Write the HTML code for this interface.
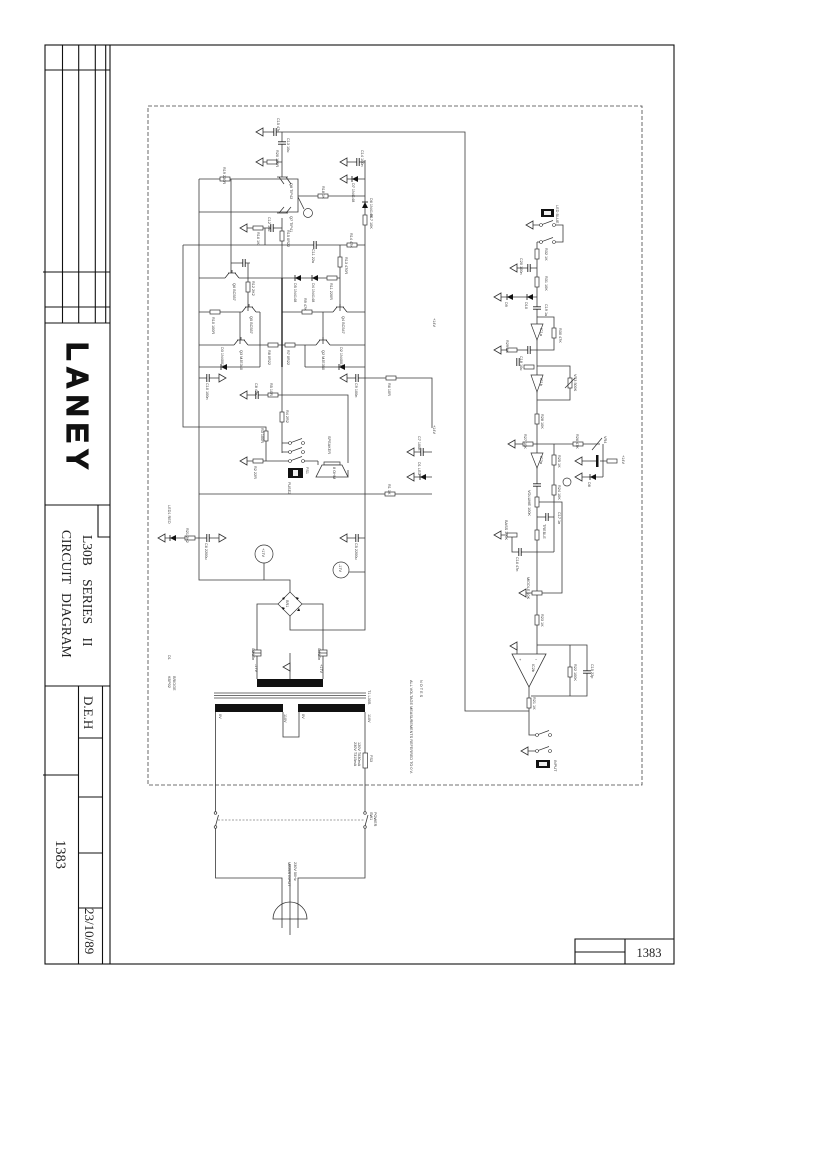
<!DOCTYPE html>
<html><head><meta charset="utf-8"><style>
html,body{margin:0;padding:0;background:#fff}
svg{display:block}
.w{fill:none;stroke:#3a3a3a;stroke-width:0.8}
.f{fill:none;stroke:#111;stroke-width:1.1}
.c{fill:#fff;stroke:#333;stroke-width:0.7}
.t{font-family:"Liberation Sans",sans-serif;font-size:3.8px;fill:#333}
.s{font-family:"Liberation Serif",serif;fill:#222}
</style></head><body>
<svg width="827" height="1170" viewBox="0 0 827 1170" xmlns="http://www.w3.org/2000/svg">
<defs>
<g id="gl"><path d="M0,0 L7,-4 L7,4 Z" fill="#fff" stroke="#333" stroke-width="0.8"/></g>
<g id="gr"><path d="M0,0 L-7,-4 L-7,4 Z" fill="#fff" stroke="#333" stroke-width="0.8"/></g>
<g id="rh"><rect x="-5" y="-2" width="10" height="4" fill="#fff" stroke="#333" stroke-width="0.7"/></g>
<g id="rv"><rect x="-2" y="-5" width="4" height="10" fill="#fff" stroke="#333" stroke-width="0.7"/></g>
<g id="cv"><rect x="-4" y="-1.2" width="8" height="2.4" fill="#fff"/><path d="M-4,-1.2H4M-4,1.2H4" stroke="#222" stroke-width="0.9"/></g>
<g id="ch"><rect x="-1.2" y="-4" width="2.4" height="8" fill="#fff"/><path d="M-1.2,-4V4M1.2,-4V4" stroke="#222" stroke-width="0.9"/></g>
<g id="dl"><path d="M-3,0 L3,-3 L3,3 Z" fill="#111"/><path d="M-3,-3V3" stroke="#111" stroke-width="0.8"/></g>
<g id="du"><path d="M0,-3 L-3,3 L3,3 Z" fill="#111"/><path d="M-3,-3H3" stroke="#111" stroke-width="0.8"/></g>
<g id="tq"><rect x="-7" y="-1" width="14" height="2" fill="#fff"/><path d="M-4,-5H4M-3,-5L-7,0M3,-5L7,0M0,-5V-8" stroke="#333" stroke-width="0.8" fill="none"/></g>
<g id="sw"><circle cx="0" cy="0" r="1.5" fill="#fff" stroke="#333" stroke-width="0.6"/><circle cx="13" cy="0" r="1.5" fill="#fff" stroke="#333" stroke-width="0.6"/><path d="M1.3,-0.6L12,-4.5" stroke="#333" stroke-width="0.7"/></g>
<g id="pc"><rect x="-4" y="-3" width="8" height="6" fill="#fff" stroke="#333" stroke-width="0.7"/><path d="M-4,0H4" stroke="#333" stroke-width="0.7"/></g>
</defs>

<!-- ===== Frame ===== -->
<rect x="45" y="45" width="629" height="919" class="f"/>
<path class="f" d="M110,45V964"/>
<path class="f" d="M62.5,45V323M78.7,45V323M95.3,45V323M105.7,45V323"/>
<path class="f" d="M45,70H110M43,272H110M45,307H110M45,323H110M45,505H110M98,505V537H110M45,686H110"/>
<path class="f" d="M78.5,686V964M102.5,686V964M43,775H78.5M78.5,738H102.5M78.5,797H102.5M78.5,853H102.5M78.5,908H102.5"/>
<path class="f" d="M575,964V939H674M625,939V964M575,952H625"/>
<text x="649" y="957" class="s" font-size="12.5" text-anchor="middle">1383</text>

<text transform="translate(67,342) rotate(90)" font-family="Liberation Sans,sans-serif" font-weight="bold" font-size="30.5" letter-spacing="6" fill="#111" stroke="#111" stroke-width="1.2">LANEY</text>
<text transform="translate(83,535) rotate(90)" class="s" font-size="13.5" word-spacing="10">L30B SERIES II</text>
<text transform="translate(62,530) rotate(90)" class="s" font-size="13.5" word-spacing="6">CIRCUIT DIAGRAM</text>
<text transform="translate(84,696) rotate(90)" class="s" font-size="13">D.E.H</text>
<text transform="translate(56,840) rotate(90)" class="s" font-size="14.5">1383</text>
<text transform="translate(85,908) rotate(90)" class="s" font-size="13">23/10/89</text>

<!-- dashed board outline -->
<rect x="148" y="106" width="494" height="679" fill="none" stroke="#444" stroke-width="0.8" stroke-dasharray="4 2"/>

<!-- ===== Power amp wiring ===== -->
<path class="w" d="M263,132H465V711H529
M282,132V177 M263,162H282
M199,179H298V212H199 M199,179V580H290V592
M231,179V273 M298,196H365 M298,197L304,209
M347,162H365 M347,179H365 M365,160V630H290V616
M282,218V453 M247,228H282 M265,228V245
M183,245H365 M183,245V427H266V461 M340,245V312
M199,278H340 M231,263H250 M248,263V312
M199,312H260 M282,312H365 M240,312V345 M260,312V367 M323,312V345
M199,345H365 M305,345V367 M199,367H260 M305,367H365
M199,378H219 M347,378H432V428 M247,395H348V463
M282,443H290 M282,452H290 M247,461H290 M303,461H318
M199,494H432 M414,452H432 M414,477H432
M165,538H219 M347,538H365 M264,563V580 M349,572H365
M278,604H257V679 M302,604H323V679 M290,653V679
M215.5,712V813 M215.5,827V878H282V928 M365,712V813 M365,827V878H298V928 M290,864V935"/>
<path d="M282,278V367" stroke="#222" stroke-width="1.4"/>

<!-- top transistors -->
<path class="w" d="M277,177H288M279,177L284,184M286,177L291,184M277,213H288M279,213L284,207M286,213L291,207"/>
<circle cx="308" cy="213" r="4.5" class="c"/>
<use href="#tq" x="232" y="278"/><use href="#tq" x="249" y="312"/><use href="#tq" x="340" y="312"/>
<use href="#tq" x="241" y="345"/><use href="#tq" x="323" y="345"/>

<!-- grounds -->
<use href="#gl" x="256" y="132"/><use href="#gl" x="256" y="162"/><use href="#gl" x="340" y="162"/><use href="#gl" x="340" y="179"/>
<use href="#gl" x="240" y="228"/><use href="#gl" x="240" y="395"/><use href="#gl" x="240" y="461"/><use href="#gl" x="340" y="378"/>
<use href="#gl" x="407" y="452"/><use href="#gl" x="407" y="477"/><use href="#gl" x="158" y="538"/><use href="#gl" x="340" y="538"/>
<use href="#gl" x="283" y="667"/><use href="#gr" x="226" y="378"/><use href="#gr" x="226" y="538"/>

<!-- resistors -->
<use href="#rv" x="282" y="236"/><use href="#rv" x="282" y="417"/><use href="#rv" x="266" y="436"/><use href="#rv" x="365" y="220"/>
<use href="#rv" x="340" y="262"/><use href="#rv" x="248" y="287"/>
<use href="#rh" x="272" y="162"/><use href="#rh" x="225" y="179"/><use href="#rh" x="323" y="196"/><use href="#rh" x="258" y="228"/>
<use href="#rh" x="352" y="245"/><use href="#rh" x="215" y="312"/><use href="#rh" x="307" y="312"/><use href="#rh" x="273" y="345"/>
<use href="#rh" x="290" y="345"/><use href="#rh" x="332" y="278"/><use href="#rh" x="273" y="395"/><use href="#rh" x="258" y="461"/>
<use href="#rh" x="390" y="494"/><use href="#rh" x="391" y="378"/><use href="#rh" x="190" y="538"/>
<!-- caps -->
<use href="#cv" x="282" y="143"/>
<use href="#ch" x="275" y="132"/><use href="#ch" x="358" y="162"/><use href="#ch" x="272" y="228"/><use href="#ch" x="315" y="245"/>
<use href="#ch" x="244" y="263"/><use href="#ch" x="208" y="378"/><use href="#ch" x="357" y="378"/><use href="#ch" x="257" y="395"/>
<use href="#ch" x="208" y="538"/><use href="#ch" x="357" y="538"/><use href="#ch" x="422" y="452"/>
<use href="#pc" x="257" y="653"/><use href="#pc" x="323" y="653"/>
<!-- diodes -->
<use href="#dl" x="355" y="179"/><use href="#dl" x="298" y="278"/><use href="#dl" x="315" y="278"/><use href="#dl" x="224" y="367"/>
<use href="#dl" x="342" y="367"/><use href="#dl" x="423" y="477"/><use href="#dl" x="173" y="538"/><use href="#du" x="365" y="205"/>

<!-- relay/switch contacts & speaker -->
<use href="#sw" x="290" y="443"/><use href="#sw" x="290" y="452"/><use href="#sw" x="290" y="461"/>
<path d="M324,462H340V465H324Z" fill="#fff" stroke="#333" stroke-width="0.7"/>
<path d="M322,465H342L348,477H316Z" fill="#fff" stroke="#333" stroke-width="0.8"/>
<path class="w" d="M318,461V465M348,470V477"/>
<rect x="288" y="468" width="15" height="10" fill="#111"/><rect x="293" y="470" width="5" height="6" fill="#eee"/>

<circle cx="264" cy="554" r="9" class="c"/><circle cx="341" cy="570" r="8" class="c"/>

<!-- bridge -->
<path d="M290,592L302,604L290,616L278,604Z" class="c"/>
<path d="M282,598l3,-1l-1,3zM296,597l3,1l-2,2zM283,610l-1,-3l3,1zM297,611l2,-3l1,3z" fill="#111"/>

<!-- transformer -->
<rect x="257" y="679" width="66" height="8" fill="#111"/>
<path d="M214,693H366M214,695.5H366M214,698H366" stroke="#444" stroke-width="0.7"/>
<rect x="215" y="704" width="68" height="8" fill="#111"/><rect x="298" y="704" width="67" height="8" fill="#111"/>
<path class="w" d="M283,712V737H299V712"/>
<rect x="363" y="753" width="4.5" height="15" class="c"/>
<!-- mains switch -->
<circle cx="215.5" cy="813" r="1.3" class="c"/><circle cx="215.5" cy="827" r="1.3" class="c"/>
<circle cx="365" cy="813" r="1.3" class="c"/><circle cx="365" cy="827" r="1.3" class="c"/>
<path class="w" d="M215.5,826L218.5,815M365,826L368,815"/>
<path d="M218,820H364" stroke="#444" stroke-width="0.6" stroke-dasharray="2 1.5"/>
<path d="M273,919A17,17 0 0 1 307,919Z" fill="none" stroke="#333" stroke-width="0.8"/>

<!-- ===== Preamp wiring ===== -->
<path class="w" d="M537,242V654 M533,225H541 M556,225H563V242H556 M541,242H537
M517,268H537 M501,297H537 M537,317H554V350H537 M501,350H537
M537,366H570V400H537 M515,444H600 M554,444V552
M582,461H597M600,461H617 M603,444V477 M582,477H603
M537,502H562V593H542 M537,517H554 M512,535V552H554 M501,535H505 M526,593H532
M537,645H587V696H531 M570,645V696 M517,646V654 M529,687V735H537 M528,751H537"/>
<rect x="541" y="209" width="13" height="8" fill="#111"/><rect x="544" y="211" width="7" height="4" fill="#eee"/>
<rect x="536" y="760" width="14" height="8" fill="#111"/><rect x="539" y="762" width="8" height="4" fill="#eee"/>
<use href="#sw" x="541" y="225"/><use href="#sw" x="541" y="242"/><use href="#sw" x="537" y="735"/><use href="#sw" x="537" y="751"/>
<use href="#gl" x="526" y="225"/><use href="#gl" x="510" y="268"/><use href="#gl" x="494" y="297"/><use href="#gl" x="494" y="350"/>
<use href="#gl" x="508" y="444"/><use href="#gl" x="575" y="461"/><use href="#gl" x="575" y="477"/><use href="#gl" x="494" y="535"/>
<use href="#gl" x="519" y="593"/><use href="#gl" x="510" y="646"/><use href="#gl" x="521" y="751"/>
<use href="#rv" x="537" y="254"/><use href="#rv" x="537" y="282"/><use href="#rv" x="554" y="333"/><use href="#rv" x="537" y="419"/>
<use href="#rv" x="554" y="460"/><use href="#rv" x="554" y="490"/><use href="#rv" x="537" y="620"/><use href="#rv" x="570" y="672"/>
<use href="#rv" x="529" y="703"/><use href="#rv" x="570" y="383"/><use href="#rv" x="537" y="502"/><use href="#rv" x="537" y="535"/>
<use href="#rh" x="512" y="350"/><use href="#rh" x="528" y="444"/><use href="#rh" x="578" y="444"/><use href="#rh" x="612" y="461"/>
<use href="#rh" x="529" y="367"/><use href="#rh" x="537" y="593"/><use href="#rh" x="512" y="535"/>
<path class="w" d="M592,450L602,438M565,388L575,378"/>
<use href="#cv" x="537" y="308"/><use href="#cv" x="537" y="485"/><use href="#cv" x="587" y="672"/>
<use href="#ch" x="529" y="268"/><use href="#ch" x="529" y="350"/><use href="#ch" x="547" y="517"/><use href="#ch" x="520" y="552"/><use href="#ch" x="518" y="362"/>
<rect x="596" y="455" width="2.5" height="12" fill="#111"/>
<use href="#dl" x="510" y="297"/><use href="#dl" x="530" y="297"/><use href="#dl" x="593" y="477"/>
<circle cx="567" cy="482" r="4" class="c"/>
<path d="M531,324H543L537,340Z" class="c"/><path d="M531,375H543L537,392Z" class="c"/><path d="M531,453H543L537,468Z" class="c"/>
<path d="M512,654H546L529,687Z" fill="#fff" stroke="#333" stroke-width="0.8"/>
<text x="519" y="661" class="t" font-size="5">+</text><text x="535" y="661" class="t" font-size="5">−</text>

<!-- ===== labels ===== -->
<g class="t">
<text transform="translate(277,118) rotate(90)">C15 47n</text>
<text transform="translate(287,138) rotate(90)">C13 10u</text>
<text transform="translate(276,150) rotate(90)">R20 100R</text>
<text transform="translate(223,167) rotate(90)">R19 220R</text>
<text transform="translate(290,183) rotate(90)">Q8 TIP42</text>
<text transform="translate(290,216) rotate(90)">Q7 TIP41</text>
<text transform="translate(322,186) rotate(90)">R18 1K</text>
<text transform="translate(361,150) rotate(90)">C14 100n</text>
<text transform="translate(352,183) rotate(90)">D7 1N4148</text>
<text transform="translate(370,198) rotate(90)">D6 1N4148</text>
<text transform="translate(370,214) rotate(90)">R17 10K</text>
<text transform="translate(257,232) rotate(90)">R16 1K</text>
<text transform="translate(268,217) rotate(90)">C12 10u</text>
<text transform="translate(287,230) rotate(90)">R15 0R22</text>
<text transform="translate(312,249) rotate(90)">C11 22u</text>
<text transform="translate(350,233) rotate(90)">R14 47K</text>
<text transform="translate(345,257) rotate(90)">R13 470R</text>
<text transform="translate(233,283) rotate(90)">Q6 BC557</text>
<text transform="translate(252,281) rotate(90)">R12 2K2</text>
<text transform="translate(294,283) rotate(90)">D5 1N4148</text>
<text transform="translate(312,283) rotate(90)">D4 1N4148</text>
<text transform="translate(330,283) rotate(90)">R11 220R</text>
<text transform="translate(212,317) rotate(90)">R10 100R</text>
<text transform="translate(250,316) rotate(90)">Q5 BC557</text>
<text transform="translate(304,298) rotate(90)">R9 47K</text>
<text transform="translate(342,316) rotate(90)">Q4 BC547</text>
<text transform="translate(240,350) rotate(90)">Q3 MJE340</text>
<text transform="translate(268,350) rotate(90)">R8 0R22</text>
<text transform="translate(287,350) rotate(90)">R7 0R22</text>
<text transform="translate(322,350) rotate(90)">Q2 MJE350</text>
<text transform="translate(221,347) rotate(90)">D3 1N4001</text>
<text transform="translate(340,347) rotate(90)">D2 1N4001</text>
<text transform="translate(206,383) rotate(90)">C10 100n</text>
<text transform="translate(355,383) rotate(90)">C9 100n</text>
<text transform="translate(388,383) rotate(90)">R6 10R</text>
<text transform="translate(255,383) rotate(90)">C8 47n</text>
<text transform="translate(270,383) rotate(90)">R5 10R</text>
<text transform="translate(286,410) rotate(90)">R4 2R2</text>
<text transform="translate(261,428) rotate(90)">R3 100R</text>
<text transform="translate(254,466) rotate(90)">R2 22R</text>
<text transform="translate(306,467) rotate(90)">FS1</text>
<text transform="translate(328,436) rotate(90)">SPEAKER</text>
<text transform="translate(333,467) rotate(90)">8 OHM</text>
<text transform="translate(288,482) rotate(90)">FUSE2</text>
<text transform="translate(388,484) rotate(90)">R1 1K</text>
<text transform="translate(418,436) rotate(90)">C7 100n</text>
<text transform="translate(418,462) rotate(90)">D1 LED</text>
<text transform="translate(433,318) rotate(90)">+14V</text>
<text transform="translate(433,425) rotate(90)">+14V</text>
<text transform="translate(168,505) rotate(90)">LED1 RED</text>
<text transform="translate(186,528) rotate(90)">R21 2K2</text>
<text transform="translate(205,543) rotate(90)">C6 2200u</text>
<text transform="translate(355,543) rotate(90)">C5 2200u</text>
<text transform="translate(262,548) rotate(90)">+17V</text>
<text transform="translate(339,564) rotate(90)">-17V</text>
<text transform="translate(252,648) rotate(90)">C3 10n</text>
<text transform="translate(318,648) rotate(90)">C4 10n</text>
<text transform="translate(255,664) rotate(90)">-17V</text>
<text transform="translate(320,664) rotate(90)">+17V</text>
<text transform="translate(286,600) rotate(90)">BR1</text>
<text transform="translate(168,655) rotate(90)">D1</text>
<text transform="translate(168,676) rotate(90)">KBP02</text>
<text transform="translate(173,676) rotate(90)">BRIDGE</text>
<text transform="translate(368,690) rotate(90)">T1 L30B</text>
<text transform="translate(219,714) rotate(90)">0V</text>
<text transform="translate(284,714) rotate(90)">110V</text>
<text transform="translate(302,714) rotate(90)">0V</text>
<text transform="translate(368,714) rotate(90)">110V</text>
<text transform="translate(354,742) rotate(90)">230V T315mA</text>
<text transform="translate(358,742) rotate(90)">120V T630mA</text>
<text transform="translate(370,755) rotate(90)">FS3</text>
<text transform="translate(370,812) rotate(90)">SW1</text>
<text transform="translate(374,812) rotate(90)">POWER</text>
<text transform="translate(288,862) rotate(90)">MAINS INPUT</text>
<text transform="translate(294,862) rotate(90)">230V 50Hz</text>
<text transform="translate(410,680) rotate(90)">ALL VOLTAGE MEASUREMENTS REFERRED TO 0 V.</text>
<text transform="translate(420,680) rotate(90)">N O T E S</text>
<text transform="translate(556,205) rotate(90)">LED BLUE</text>
<text transform="translate(545,248) rotate(90)">R32 1K</text>
<text transform="translate(520,258) rotate(90)">C20 100n</text>
<text transform="translate(545,276) rotate(90)">R31 10K</text>
<text transform="translate(505,302) rotate(90)">D9</text>
<text transform="translate(525,302) rotate(90)">D10</text>
<text transform="translate(545,304) rotate(90)">C19 1u</text>
<text transform="translate(540,328) rotate(90)">IC1a</text>
<text transform="translate(559,328) rotate(90)">R30 47K</text>
<text transform="translate(506,340) rotate(90)">R29 1K</text>
<text transform="translate(520,356) rotate(90)">C18 10u</text>
<text transform="translate(574,374) rotate(90)">VR3 500K</text>
<text transform="translate(540,378) rotate(90)">IC1b</text>
<text transform="translate(541,414) rotate(90)">R28 10K</text>
<text transform="translate(524,434) rotate(90)">R27 10K</text>
<text transform="translate(576,434) rotate(90)">R26 47K</text>
<text transform="translate(604,436) rotate(90)">VR4</text>
<text transform="translate(622,455) rotate(90)">+14V</text>
<text transform="translate(540,456) rotate(90)">IC2a</text>
<text transform="translate(558,455) rotate(90)">R25 1K</text>
<text transform="translate(558,485) rotate(90)">R24 10K</text>
<text transform="translate(588,482) rotate(90)">D8</text>
<text transform="translate(528,490) rotate(90)">VOLUME 100K</text>
<text transform="translate(543,524) rotate(90)">TREBLE</text>
<text transform="translate(505,520) rotate(90)">BASS 100K</text>
<text transform="translate(558,512) rotate(90)">C17 1n</text>
<text transform="translate(516,557) rotate(90)">C16 47n</text>
<text transform="translate(527,577) rotate(90)">MIDDLE 10K</text>
<text transform="translate(541,614) rotate(90)">R23 1K</text>
<text transform="translate(574,664) rotate(90)">R22 100K</text>
<text transform="translate(591,664) rotate(90)">C15 22p</text>
<text transform="translate(532,664) rotate(90)">IC2b</text>
<text transform="translate(533,697) rotate(90)">R21 1K</text>
<text transform="translate(554,760) rotate(90)">INPUT</text>
</g>
</svg>
</body></html>
